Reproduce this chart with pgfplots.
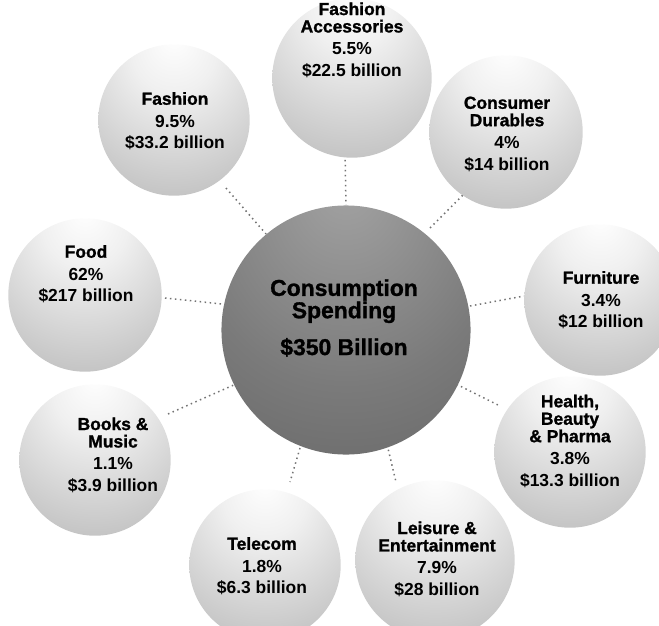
\documentclass[border=0pt]{standalone}
\usepackage{pgfplots}
\usepackage{pgfplotstable}
\pgfplotsset{compat=1.18}
\usepackage{fontspec}
\setmainfont{Liberation Sans}
\newfontfamily\heavy[FakeBold=1.2]{Liberation Sans Bold}

% soft grey spheres, lit from the top
\pgfdeclareradialshading{lightsphere}{\pgfpoint{0bp}{28bp}}{%
  color(0bp)=(white); color(14bp)=(black!6); color(45bp)=(black!27); color(78bp)=(black!36)}
\pgfdeclareradialshading{darksphere}{\pgfpoint{0bp}{30bp}}{%
  color(0bp)=(black!36); color(30bp)=(black!52); color(60bp)=(black!64); color(80bp)=(black!68)}
\pgfdeclareplotmark{lightball}{%
  \pgfpathcircle{\pgfpointorigin}{\pgfplotmarksize}%
  \pgfshadepath{lightsphere}{0}%
  \pgfusepath{discard}}
\pgfdeclareplotmark{darkball}{%
  \pgfpathcircle{\pgfpointorigin}{\pgfplotmarksize}%
  \pgfshadepath{darksphere}{0}%
  \pgfusepath{discard}}

% x y radius, in picture pixels (y downwards)
\pgfplotstableread{
x   y   r
352 78  80
506 132 77
174 120 76
85  295 77
600 300 76
570 452 76
435 560 80
265 565 76
95  460 76
}\outer
\pgfplotstableread{
x   y   r
346 330 125
}\centre

\pgfplotsset{sized balls/.style={
  scatter, only marks,
  visualization depends on={\thisrow{r} \as \rad},
  scatter/@pre marker code/.append style={/tikz/mark size=\rad}}}

\begin{document}
\begin{tikzpicture}[lbl/.style={align=center, font=\fontsize{17.5}{17.5}\selectfont\bfseries}]
\begin{axis}[
  width=659bp, height=626bp, scale only axis,
  xmin=0, xmax=659, ymin=0, ymax=626, y dir=reverse,
  hide axis,
  unbounded coords=jump,
]
% dotted links from the centre to each sphere
\addplot[black!55, line width=1.5pt, dash pattern=on 1.5pt off 3.5pt] coordinates {
  (345,150) (346,205) (nan,nan)
  (430,228) (472,186) (nan,nan)
  (226,188) (266,234) (nan,nan)
  (165,298) (222,304) (nan,nan)
  (470,306) (524,296) (nan,nan)
  (452,382) (498,405) (nan,nan)
  (386,440) (396,482) (nan,nan)
  (300,448) (290,482) (nan,nan)
  (168,414) (236,384)
};
\addplot[sized balls, mark=lightball] table {\outer};
\addplot[sized balls, mark=darkball] table {\centre};

\coordinate (fa) at (axis cs:352,40);
\coordinate (cd) at (axis cs:507,134);
\coordinate (fs) at (axis cs:175,121);
\coordinate (fd) at (axis cs:86,274);
\coordinate (fu) at (axis cs:601,300);
\coordinate (hb) at (axis cs:570,441);
\coordinate (le) at (axis cs:437,559);
\coordinate (tc) at (axis cs:262,566);
\coordinate (bm) at (axis cs:113,455);
\coordinate (cs) at (axis cs:344,318);
\end{axis}

\node[lbl] at (fa) {{\heavy Fashion}\\{\heavy Accessories}\\[5pt]5.5\%\\[4pt]\$22.5 billion};
\node[lbl] at (cd) {{\heavy Consumer}\\{\heavy Durables}\\[5pt]4\%\\[4pt]\$14 billion};
\node[lbl] at (fs) {{\heavy Fashion}\\[5pt]9.5\%\\[4pt]\$33.2 billion};
\node[lbl] at (fd) {{\heavy Food}\\[5pt]62\%\\[4pt]\$217 billion};
\node[lbl] at (fu) {{\heavy Furniture}\\[5pt]3.4\%\\[4pt]\$12 billion};
\node[lbl] at (hb) {{\heavy Health,}\\{\heavy Beauty}\\{\heavy \& Pharma}\\[5pt]3.8\%\\[4pt]\$13.3 billion};
\node[lbl] at (le) {{\heavy Leisure \&}\\{\heavy Entertainment}\\[5pt]7.9\%\\[4pt]\$28 billion};
\node[lbl] at (tc) {{\heavy Telecom}\\[5pt]1.8\%\\[4pt]\$6.3 billion};
\node[lbl] at (bm) {{\heavy Books \&}\\{\heavy Music}\\[5pt]1.1\%\\[4pt]\$3.9 billion};
\node[align=center, font=\fontsize{23}{20}\heavy] at (cs)
  {Consumption\\Spending\\[14pt]\$350 Billion};

\pgfresetboundingbox
\path[use as bounding box] (current axis.south west) rectangle (current axis.north east);
\end{tikzpicture}
\end{document}
